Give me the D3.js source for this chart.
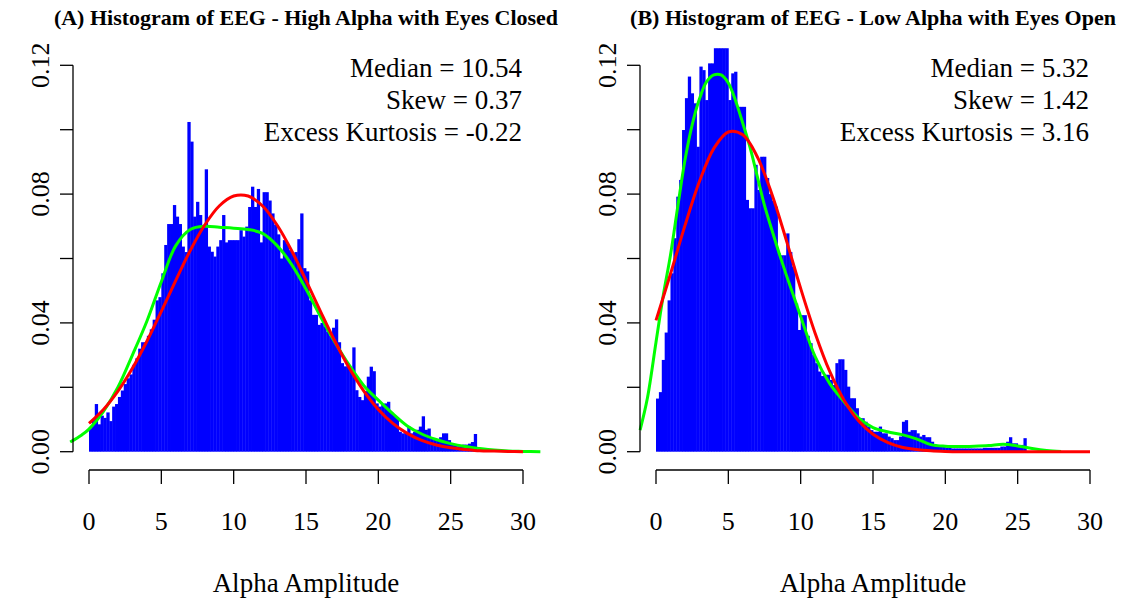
<!DOCTYPE html>
<html>
<head>
<meta charset="utf-8">
<script src="https://cdn.jsdelivr.net/npm/d3@7"></script>
<style>
  body { margin: 0; background: #fff; }
  svg { display: block; }
  text { font-family: "Liberation Serif", "Times New Roman", serif; fill: #000; }
</style>
</head>
<body>
<svg id="chart" width="1127" height="600"></svg>
<script>
// Histogram bins start at 0 and are binWidth wide
const binWidth = 0.2;

// (A) High alpha, eyes closed: density per bin
const densityA = [
  0.0073, 0.0100, 0.0148, 0.0085, 0.0112, 0.0105, 0.0122, 0.0095, 0.0140, 0.0148,
  0.0170, 0.0190, 0.0210, 0.0228, 0.0240, 0.0270, 0.0290, 0.0320, 0.0340, 0.0340,
  0.0360, 0.0380, 0.0410, 0.0470, 0.0480, 0.0554, 0.0642, 0.0707, 0.0707, 0.0766,
  0.0730, 0.0707, 0.0637, 0.0620, 0.1024, 0.0963, 0.0730, 0.0776, 0.0735, 0.0699,
  0.0877, 0.0637, 0.0621, 0.0606, 0.0637, 0.0657, 0.0735, 0.0650, 0.0657, 0.0657,
  0.0657, 0.0657, 0.0688, 0.0668, 0.0699, 0.0760, 0.0823, 0.0760, 0.0816, 0.0650,
  0.0806, 0.0806, 0.0780, 0.0740, 0.0704, 0.0675, 0.0600, 0.0657, 0.0647, 0.0626,
  0.0616, 0.0620, 0.0660, 0.0740, 0.0570, 0.0560, 0.0470, 0.0425, 0.0425, 0.0394,
  0.0400, 0.0389, 0.0372, 0.0360, 0.0385, 0.0411, 0.0340, 0.0275, 0.0265, 0.0265,
  0.0260, 0.0324, 0.0191, 0.0170, 0.0160, 0.0188, 0.0233, 0.0264, 0.0250, 0.0150,
  0.0140, 0.0145, 0.0150, 0.0155, 0.0122, 0.0112, 0.0104, 0.0062, 0.0057, 0.0060,
  0.0078, 0.0057, 0.0062, 0.0068, 0.0078, 0.0110, 0.0068, 0.0072, 0.0042, 0.0037,
  0.0037, 0.0045, 0.0057, 0.0057, 0.0036, 0.0025, 0.0022, 0.0017, 0.0017, 0.0022,
  0.0022, 0.0025, 0.0030, 0.0055
];

// (B) Low alpha, eyes open: density per bin
const densityB = [
  0.0165, 0.0185, 0.0285, 0.0370, 0.0470, 0.0554, 0.0663, 0.0792, 0.0844, 0.0999,
  0.1098, 0.1165, 0.1113, 0.1082, 0.0947, 0.1196, 0.1185, 0.1092, 0.1206, 0.1206,
  0.1253, 0.1253, 0.1253, 0.1253, 0.1253, 0.1092, 0.1175, 0.1180, 0.1071, 0.1071,
  0.1071, 0.0782, 0.0756, 0.0756, 0.0891, 0.0813, 0.0916, 0.0916, 0.0850, 0.0800,
  0.0780, 0.0761, 0.0616, 0.0610, 0.0610, 0.0678, 0.0620, 0.0575, 0.0460, 0.0378,
  0.0424, 0.0424, 0.0360, 0.0337, 0.0300, 0.0275, 0.0249, 0.0235, 0.0239, 0.0239,
  0.0223, 0.0207, 0.0275, 0.0287, 0.0287, 0.0254, 0.0202, 0.0166, 0.0166, 0.0135,
  0.0104, 0.0104, 0.0093, 0.0078, 0.0067, 0.0062, 0.0062, 0.0078, 0.0057, 0.0057,
  0.0047, 0.0042, 0.0036, 0.0036, 0.0047, 0.0093, 0.0098, 0.0062, 0.0067, 0.0067,
  0.0057, 0.0047, 0.0052, 0.0045, 0.0045, 0.0031, 0.0021, 0.0021, 0.0016, 0.0016,
  0.0013, 0.0013, 0.0010, 0.0010, 0.0010, 0.0010, 0.0010, 0.0010, 0.0010, 0.0010,
  0.0010, 0.0010, 0.0010, 0.0012, 0.0012, 0.0012, 0.0012, 0.0012, 0.0012, 0.0016,
  0.0016, 0.0031, 0.0045, 0.0026, 0.0026, 0.0021, 0.0021, 0.0042
];

// Fitted normal curves (red), sampled at whole amplitudes 0..30
const normalX = d3.range(0, 31);
const normalA = [
  0.0088, 0.0131, 0.0188, 0.0259, 0.0343, 0.0436, 0.0532, 0.0625, 0.0704, 0.0763,
  0.0794, 0.0794, 0.0763, 0.0704, 0.0625, 0.0532, 0.0436, 0.0343, 0.0259, 0.0188,
  0.0131, 0.0088, 0.0057, 0.0035, 0.0021, 0.0012, 0.0007, 0.0003, 0.0002, 0.0001,
  0.0000
];
const normalB = [
  0.0408, 0.0552, 0.0702, 0.0839, 0.0942, 0.0993, 0.0984, 0.0916, 0.0801, 0.0658,
  0.0507, 0.0368, 0.0250, 0.0160, 0.0096, 0.0054, 0.0029, 0.0014, 0.0007, 0.0003,
  0.0001, 0.0000, 0.0000, 0.0000, 0.0000, 0.0000, 0.0000, 0.0000, 0.0000, 0.0000,
  0.0000
];

// Kernel density curves (green)
const kdeAx = [-1.3, -0.5, 0, 1, 2, 3, 4, 5, 6, 7, 8, 9, 10, 11, 12, 13, 14, 15, 16, 17,
  18, 19, 20, 21, 22, 23, 24, 25, 26, 27, 28, 29, 30, 31.2];
const kdeAy = [0.0030, 0.0052, 0.0070, 0.0125, 0.0200, 0.0300, 0.0405, 0.0528, 0.0640, 0.0690,
  0.0700, 0.0697, 0.0694, 0.0690, 0.0678, 0.0640, 0.0582, 0.0505, 0.0420, 0.0340,
  0.0268, 0.0205, 0.0160, 0.0118, 0.0080, 0.0055, 0.0038, 0.0025, 0.0016, 0.0010,
  0.0005, 0.0002, 0.0001, 0.0000];
const kdeBx = [-1.1, -0.6, 0, 0.5, 1, 1.5, 2, 2.5, 3, 3.5, 4, 4.5, 5, 5.5, 6, 6.5, 7, 7.5,
  8, 8.5, 9, 9.5, 10, 11, 12, 13, 14, 15, 16, 17, 18, 19, 20, 21, 22, 23, 24, 25, 26, 27, 28];
const kdeBy = [0.0067, 0.0165, 0.0340, 0.0485, 0.0610, 0.0760, 0.0905, 0.1015, 0.1095, 0.1149,
  0.1170, 0.1170, 0.1145, 0.1090, 0.1020, 0.0945, 0.0855, 0.0765, 0.0690, 0.0618,
  0.0550, 0.0485, 0.0420, 0.0295, 0.0212, 0.0155, 0.0105, 0.0075, 0.0062, 0.0053,
  0.0040, 0.0022, 0.0017, 0.0016, 0.0017, 0.0019, 0.0023, 0.0018, 0.0010, 0.0004, 0.0001];

// Axis ticks
const xTicks = [0, 5, 10, 15, 20, 25, 30];
const yTicks = [0, 0.02, 0.04, 0.06, 0.08, 0.10, 0.12];
const yLabelled = [0, 0.04, 0.08, 0.12];

// Titles and summary statistics
const titles = [
  "(A) Histogram of EEG - High Alpha with Eyes Closed",
  "(B) Histogram of EEG - Low Alpha with Eyes Open"
];
const statsA = ["Median = 10.54", "Skew = 0.37", "Excess Kurtosis = -0.22"];
const statsB = ["Median = 5.32", "Skew = 1.42", "Excess Kurtosis = 3.16"];
const xLabel = "Alpha Amplitude";

const panels = [
  { title: titles[0], bins: densityA, normal: normalA, kdeX: kdeAx, kdeY: kdeAy, stats: statsA, dx: 0 },
  { title: titles[1], bins: densityB, normal: normalB, kdeX: kdeBx, kdeY: kdeBy, stats: statsB, dx: 567 }
];

const svg = d3.select("#chart");

panels.forEach(p => {
  const g = svg.append("g").attr("transform", `translate(${p.dx},0)`);

  const x = d3.scaleLinear().domain([0, 30]).range([89, 523]);
  const y = d3.scaleLinear().domain([0, 0.12]).range([451.7, 65.3]);
  const axisX = 73, axisY = 470;

  // histogram bars
  g.append("g")
    .selectAll("rect")
    .data(p.bins)
    .join("rect")
    .attr("x", (d, i) => x(i * binWidth))
    .attr("width", x(binWidth) - x(0) + 0.4)
    .attr("y", d => y(d))
    .attr("height", d => y(0) - y(d))
    .attr("fill", "#0000ff");

  const line = d3.line()
    .x(d => x(d[0]))
    .y(d => y(d[1]))
    .curve(d3.curveCatmullRom.alpha(0.5));

  // kernel density (green)
  g.append("path")
    .attr("d", line(p.kdeX.map((v, i) => [v, p.kdeY[i]])))
    .attr("fill", "none")
    .attr("stroke", "#00ff00")
    .attr("stroke-width", 3);

  // normal fit (red)
  g.append("path")
    .attr("d", line(normalX.map((v, i) => [v, p.normal[i]])))
    .attr("fill", "none")
    .attr("stroke", "#ff0000")
    .attr("stroke-width", 3);

  // x axis
  const xa = g.append("g").attr("transform", `translate(0,${axisY})`);
  xa.append("line")
    .attr("x1", x(0)).attr("x2", x(30))
    .attr("stroke", "#000").attr("stroke-width", 1.3);
  xa.selectAll("line.tick")
    .data(xTicks).join("line").attr("class", "tick")
    .attr("x1", d => x(d)).attr("x2", d => x(d))
    .attr("y1", 0).attr("y2", 14)
    .attr("stroke", "#000").attr("stroke-width", 1.3);
  xa.selectAll("text")
    .data(xTicks).join("text")
    .attr("x", d => x(d)).attr("y", 60)
    .attr("text-anchor", "middle")
    .attr("font-size", 26)
    .text(d => d);

  // y axis
  const ya = g.append("g").attr("transform", `translate(${axisX},0)`);
  ya.append("line")
    .attr("y1", y(0)).attr("y2", y(0.12))
    .attr("stroke", "#000").attr("stroke-width", 1.3);
  ya.selectAll("line.tick")
    .data(yTicks).join("line").attr("class", "tick")
    .attr("y1", d => y(d)).attr("y2", d => y(d))
    .attr("x1", 0).attr("x2", -13)
    .attr("stroke", "#000").attr("stroke-width", 1.3);
  ya.selectAll("text")
    .data(yLabelled).join("text")
    .attr("transform", d => `translate(-24,${y(d)}) rotate(-90)`)
    .attr("text-anchor", "middle")
    .attr("font-size", 26)
    .text(d => d3.format(".2f")(d));

  // panel title
  g.append("text")
    .attr("x", 306).attr("y", 25)
    .attr("text-anchor", "middle")
    .attr("font-size", 22)
    .attr("font-weight", "bold")
    .text(p.title);

  // summary statistics
  g.selectAll("text.stat")
    .data(p.stats).join("text").attr("class", "stat")
    .attr("x", 522)
    .attr("y", (d, i) => 77 + i * 32)
    .attr("text-anchor", "end")
    .attr("font-size", 27)
    .text(d => d);

  // x axis title
  g.append("text")
    .attr("x", 306).attr("y", 592)
    .attr("text-anchor", "middle")
    .attr("font-size", 27)
    .text(xLabel);
});
</script>
</body>
</html>
